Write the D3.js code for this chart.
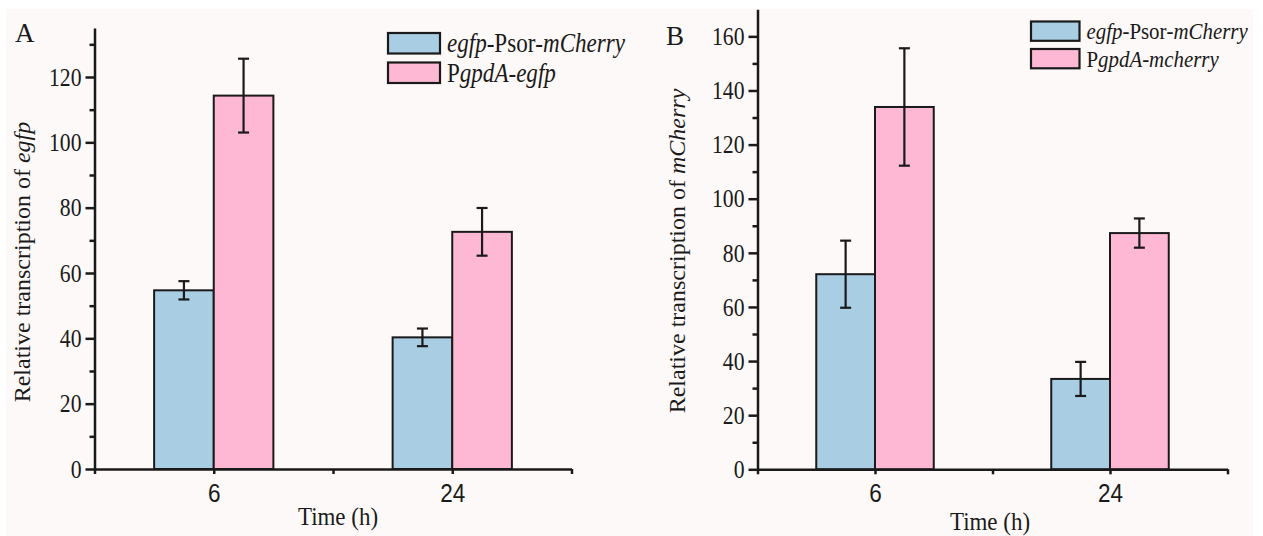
<!DOCTYPE html>
<html>
<head>
<meta charset="utf-8">
<script src="https://cdn.jsdelivr.net/npm/d3@7"></script>
<style>
  body { margin: 0; background: #fff; }
  text { font-family: "Liberation Serif", "Times New Roman", serif; fill: #1a1a1a; }
  .xtick text { font-family: "Liberation Sans", Arial, sans-serif; }
</style>
</head>
<body>
<div id="chart"></div>
<script>
// data
var times = ["6", "24"];

var egfpPsorA = [54.7, 40.3];
var egfpPsorAErr = [2.8, 2.7];
var gpdAEgfp = [114.3, 72.6];
var gpdAEgfpErr = [11.3, 7.3];

var egfpPsorB = [72.1, 33.4];
var egfpPsorBErr = [12.4, 6.3];
var gpdAMcherry = [133.9, 87.3];
var gpdAMcherryErr = [21.7, 5.4];

var yTicksA = [0, 20, 40, 60, 80, 100, 120];
var yTicksB = [0, 20, 40, 60, 80, 100, 120, 140, 160];

// legend / label text, [text, italic]
var legendA = [
  [["egfp", true], ["-Psor", false], ["-mCherry", true]],
  [["P", false], ["gpdA-egfp", true]]
];
var legendB = [
  [["egfp", true], ["-Psor", false], ["-mCherry", true]],
  [["P", false], ["gpdA-mcherry", true]]
];
var yLabelA = [["Relative transcription of ", false], ["egfp", true]];
var yLabelB = [["Relative transcription of ", false], ["mCherry", true]];

var blue = "#a9cee3", pink = "#feb8d4", ink = "#1a1a1a";

var svgWidth = 1263, svgHeight = 536;

var svg = d3.select("#chart").append("svg")
  .attr("width", svgWidth)
  .attr("height", svgHeight);

svg.append("rect")
  .attr("x", 6).attr("y", 9)
  .attr("width", 1247).attr("height", 527)
  .attr("fill", "#fdf9f8");

function richText(sel, parts) {
  parts.forEach(function(p) {
    sel.append("tspan")
      .attr("font-style", p[1] ? "italic" : "normal")
      .text(p[0]);
  });
}

// the figure is squeezed sideways, so squeeze the horizontal text too
function condense(sel, f) {
  sel.each(function() {
    var w = this.getComputedTextLength();
    if (w > 0) {
      d3.select(this)
        .attr("textLength", w * f)
        .attr("lengthAdjust", "spacingAndGlyphs");
    }
  });
}

function drawPanel(p) {
  var x = d3.scaleLinear().domain([0.5, 2.5]).range([p.x0, p.x1]);
  var y = d3.scaleLinear().domain([0, p.yMax]).range([p.y0, p.y1]);
  var g = svg.append("g");

  var series = [
    {vals: p.s1, err: p.e1, fill: blue, off: -0.25},
    {vals: p.s2, err: p.e2, fill: pink, off: 0}
  ];

  series.forEach(function(s) {
    g.selectAll(null)
      .data(s.vals)
      .enter()
      .append("rect")
      .attr("x", (d, i) => x(i + 1 + s.off))
      .attr("width", (d, i) => x(i + 1 + s.off + 0.25) - x(i + 1 + s.off))
      .attr("y", d => y(d))
      .attr("height", d => y(0) - y(d))
      .attr("fill", s.fill)
      .attr("stroke", ink)
      .attr("stroke-width", 2);

    var eb = g.selectAll(null)
      .data(s.vals)
      .enter()
      .append("g")
      .attr("stroke", ink)
      .attr("stroke-width", 2.2);
    eb.append("line")
      .attr("x1", (d, i) => x(i + 1 + s.off + 0.125))
      .attr("x2", (d, i) => x(i + 1 + s.off + 0.125))
      .attr("y1", (d, i) => y(d - s.err[i]))
      .attr("y2", (d, i) => y(d + s.err[i]));
    [-1, 1].forEach(function(sign) {
      eb.append("line")
        .attr("x1", (d, i) => x(i + 1 + s.off + 0.125) - 5.5)
        .attr("x2", (d, i) => x(i + 1 + s.off + 0.125) + 5.5)
        .attr("y1", (d, i) => y(d + sign * s.err[i]))
        .attr("y2", (d, i) => y(d + sign * s.err[i]));
    });
  });

  // minor y ticks
  var minor = p.yTicks.map(d => d + 10).filter(d => d < p.yMax);
  var minorAxis = g.append("g")
    .attr("transform", `translate(${p.x0},0)`)
    .call(d3.axisLeft(y).tickValues(minor).tickSize(5).tickFormat(""));
  minorAxis.select(".domain").remove();

  var leftAxis = g.append("g")
    .attr("transform", `translate(${p.x0},0)`)
    .call(d3.axisLeft(y).tickValues(p.yTicks).tickSize(9).tickSizeOuter(0).tickPadding(4));
  leftAxis.selectAll("text").attr("font-size", 25.5).attr("fill", ink).call(condense, 0.85);

  var bottomAxis = g.append("g")
    .attr("class", "xtick")
    .attr("transform", `translate(0,${p.y0})`)
    .call(d3.axisBottom(x)
      .tickValues([0.5, 1, 1.5, 2, 2.5])
      .tickSize(5)
      .tickSizeOuter(0)
      .tickPadding(10)
      .tickFormat(d => Number.isInteger(d) ? times[d - 1] : ""));
  bottomAxis.selectAll("text").attr("font-size", 25).attr("fill", ink).call(condense, 0.9);

  g.selectAll(".domain, .tick line")
    .attr("stroke", ink)
    .attr("stroke-width", 2.5);

  // axis titles
  var yl = g.append("text")
    .attr("text-anchor", "middle")
    .attr("font-size", 24)
    .attr("transform", `translate(${p.ylx},${p.yly}) rotate(-90)`);
  richText(yl, p.yLabel);

  g.append("text")
    .attr("x", p.xlx)
    .attr("y", p.xly)
    .attr("text-anchor", "middle")
    .attr("font-size", 25.5)
    .text("Time (h)")
    .call(condense, 0.9);

  g.append("text")
    .attr("x", p.lx)
    .attr("y", p.ly)
    .attr("font-size", 27)
    .text(p.letter);

  // legend
  var lg = g.append("g");
  p.legend.forEach(function(parts, i) {
    lg.append("rect")
      .attr("x", p.legX)
      .attr("y", p.legY + i * p.legStep)
      .attr("width", p.legW)
      .attr("height", p.legH)
      .attr("fill", i === 0 ? blue : pink)
      .attr("stroke", ink)
      .attr("stroke-width", 2.2);
    var t = lg.append("text")
      .attr("transform", `translate(${p.legX + p.legW + 7},${p.legY + i * p.legStep + p.legH - 1.5}) scale(0.87,1)`)
      .attr("font-size", p.legFont);
    richText(t, parts);
  });
}

drawPanel({
  x0: 94.5, x1: 571.5, y0: 469, y1: 28, yMax: 135,
  s1: egfpPsorA, e1: egfpPsorAErr, s2: gpdAEgfp, e2: gpdAEgfpErr,
  yTicks: yTicksA, yLabel: yLabelA, ylx: 30, yly: 262, xlx: 338, xly: 525,
  letter: "A", lx: 15, ly: 42,
  legend: legendA, legX: 388, legY: 33, legW: 52, legH: 20.5, legStep: 29.5, legFont: 26.5
});

drawPanel({
  x0: 757.5, x1: 1227.5, y0: 469.3, y1: 9.3, yMax: 170,
  s1: egfpPsorB, e1: egfpPsorBErr, s2: gpdAMcherry, e2: gpdAMcherryErr,
  yTicks: yTicksB, yLabel: yLabelB, ylx: 685, yly: 251, xlx: 990, xly: 530,
  letter: "B", lx: 666, ly: 45,
  legend: legendB, legX: 1031, legY: 21.5, legW: 48.5, legH: 19.3, legStep: 27.5, legFont: 24
});
</script>
</body>
</html>
